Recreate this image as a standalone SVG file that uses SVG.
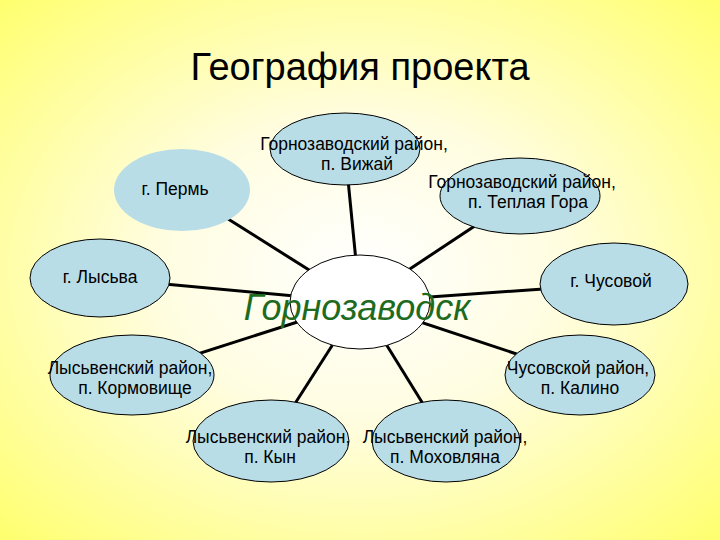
<svg xmlns="http://www.w3.org/2000/svg" width="720" height="540" viewBox="0 0 720 540">
<defs>
<radialGradient id="bg" cx="50%" cy="50%" r="70%">
<stop offset="0" stop-color="#ffffff"/><stop offset="0.4" stop-color="#fffde0"/><stop offset="1" stop-color="#ffff70"/>
</radialGradient>
<style>
.n{fill:#b9dde6;stroke:#000;stroke-width:1}
.t{font-family:"Liberation Sans",Arial,sans-serif;font-size:17.5px;text-anchor:middle;fill:#000}
.c line{stroke:#000;stroke-width:3}
</style>
</defs>
<rect width="720" height="540" fill="url(#bg)"/>
<text x="360" y="80" font-family="Liberation Sans,Arial,sans-serif" font-size="38" text-anchor="middle">География проекта</text>
<g class="c">
<line x1="360" y1="302" x2="182" y2="190"/>
<line x1="360" y1="302" x2="345" y2="149"/>
<line x1="360" y1="302" x2="520" y2="196"/>
<line x1="360" y1="302" x2="100" y2="278"/>
<line x1="360" y1="302" x2="614" y2="284"/>
<line x1="360" y1="302" x2="132" y2="375"/>
<line x1="360" y1="302" x2="580" y2="375"/>
<line x1="360" y1="302" x2="271" y2="441"/>
<line x1="360" y1="302" x2="446" y2="441"/>
</g>
<g id="perm"><ellipse cx="182" cy="190" rx="68" ry="41" fill="#b9dde6"/></g>
<g id="vizhay"><ellipse class="n" cx="345" cy="149" rx="75" ry="36"/></g>
<g id="teplaya"><ellipse class="n" cx="520" cy="196" rx="80" ry="38"/></g>
<g id="lysva"><ellipse class="n" cx="100" cy="278" rx="70" ry="39"/></g>
<g id="chusovoy"><ellipse class="n" cx="614" cy="284" rx="74" ry="41"/></g>
<g id="kormovische"><ellipse class="n" cx="132" cy="375" rx="82" ry="40"/></g>
<g id="kalino"><ellipse class="n" cx="580" cy="375" rx="75" ry="40"/></g>
<g id="kyn"><ellipse class="n" cx="271" cy="441" rx="78" ry="41"/></g>
<g id="mokhovlyana"><ellipse class="n" cx="446" cy="441" rx="74" ry="41"/></g>
<g id="center"><ellipse cx="360" cy="302" rx="70" ry="47" fill="#fff" stroke="#000" stroke-width="1"/></g>
<g>
<text class="t" x="175" y="195">г. Пермь</text>
<text class="t" x="354" y="150">Горнозаводский район,</text>
<text class="t" x="357" y="170">п. Вижай</text>
<text class="t" x="522" y="188">Горнозаводский район,</text>
<text class="t" x="528" y="208">п. Теплая Гора</text>
<text class="t" x="100" y="283">г. Лысьва</text>
<text class="t" x="611" y="287">г. Чусовой</text>
<text class="t" x="130" y="374">Лысьвенский район,</text>
<text class="t" x="135" y="394">п. Кормовище</text>
<text class="t" x="578" y="374">Чусовской район,</text>
<text class="t" x="580" y="394">п. Калино</text>
<text class="t" x="268" y="443">Лысьвенский район,</text>
<text class="t" x="270" y="463">п. Кын</text>
<text class="t" x="445" y="443">Лысьвенский район,</text>
<text class="t" x="445" y="463">п. Моховляна</text>
<text x="357" y="320" font-family="Liberation Sans,Arial,sans-serif" font-size="36" font-style="italic" text-anchor="middle" fill="#1e6b1e">Горнозаводск</text>
</g>
</svg>
